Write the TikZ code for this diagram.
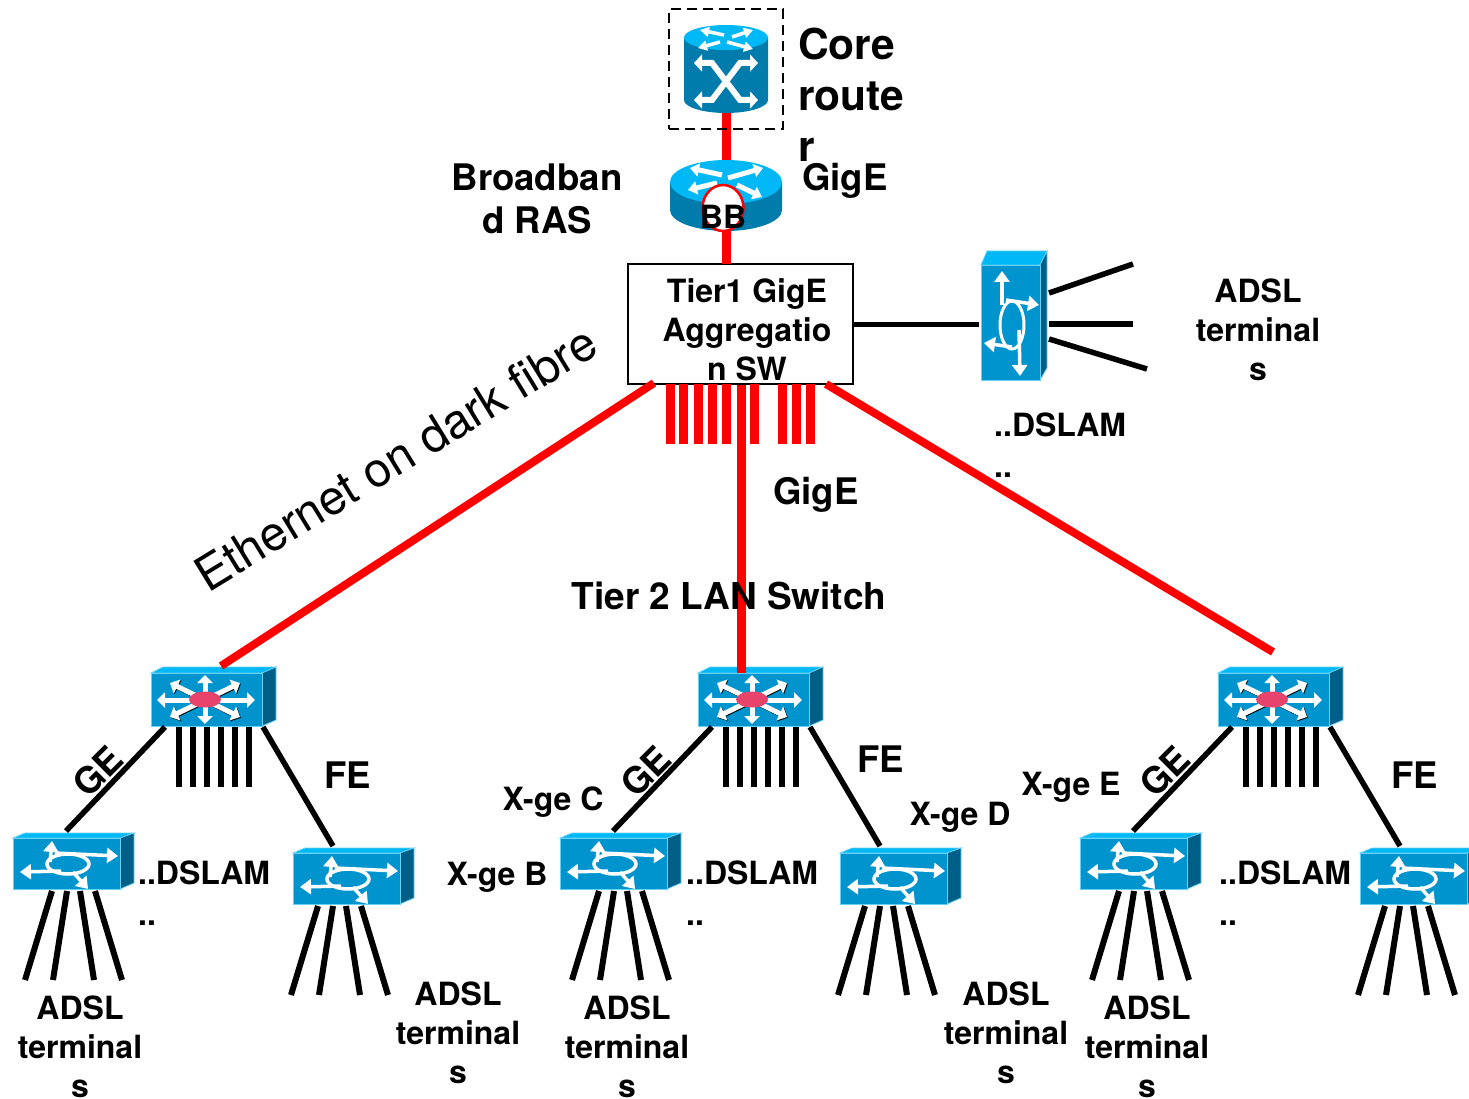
\documentclass[tikz,border=0pt]{standalone}
\usepackage{fontspec}
\setmainfont{TeX Gyre Heros}
\usetikzlibrary{arrows.meta,calc,shapes.geometric}
\definecolor{cfront}{HTML}{0094CF}
\definecolor{ctop}{HTML}{00B8F5}
\definecolor{cside}{HTML}{005F86}
\definecolor{cbody}{HTML}{007CAC}
\definecolor{cedge}{HTML}{66D0F5}
\definecolor{cdot}{HTML}{E8436A}
\tikzset{
  redlink/.style={draw=red,line width=8pt},
  redfat/.style={draw=red,line width=9pt},
  blacklink/.style={draw=black,line width=5.5pt},
  blackstub/.style={draw=black,line width=6pt},
  whitearrow/.style={draw=white,line width=5pt,-{Triangle[length=8pt,width=15pt]}},
  whitearrowsm/.style={draw=white,line width=3.5pt,-{Triangle[length=11pt,width=15pt]}},
  shadearrow/.style={draw=black,line width=5pt,-{Triangle[length=8pt,width=15pt]}},
  facefront/.style={fill=cfront,draw=cedge,line width=.8pt},
  facetop/.style={fill=ctop,draw=cedge,line width=.8pt},
  faceside/.style={fill=cside,draw=cedge,line width=.8pt},
  lb/.style={font=\bfseries\fontsize{32}{39}\selectfont,align=center,inner sep=0pt,text=black},
  lbl/.style={font=\bfseries\fontsize{32}{41}\selectfont,align=left,inner sep=0pt,anchor=west,text=black},
  lbm/.style={font=\bfseries\fontsize{36.6}{43}\selectfont,align=center,inner sep=0pt,text=black},
}
% layer 3 switch: #1 name, origin = top-left of the front face
\newcommand{\lanswitch}[3]{%
\begin{scope}[shift={(#2,#3)}]
  \fill[facetop] (0,0) -- (12,-6) -- (125,-6) -- (111,0) -- cycle;
  \fill[faceside] (111,0) -- (125,-6) -- (125,47) -- (111,53) -- cycle;
  \node[rectangle,facefront,minimum width=111pt,minimum height=53pt,inner sep=0pt,anchor=north west] (#1) at (0,0) {};
  \foreach \a/\b in {19/10,89/10,19/44,89/44}{
    \draw[shadearrow] (54.8,27.8) -- ($(\a,\b)+(.8,.8)$);
    \draw[whitearrow] (54,27) -- (\a,\b);}
  \foreach \a/\b in {6/27,104/27,54/2,54/51}{\draw[whitearrow] (54,27) -- (\a,\b);}
  \fill[cdot] (54,26.5) ellipse [x radius=16pt,y radius=8pt];
  \coordinate (#1gl) at (14,54);
  \coordinate (#1gr) at (112,54);
  \coordinate (#1top) at (70,-7);
  \foreach \i/\x in {1/28,2/42,3/56,4/70,5/84,6/98}{
    \coordinate (#1a\i) at (\x,54);
    \coordinate (#1b\i) at (\x,114);
    \draw[blackstub] (#1a\i) -- (#1b\i);}
\end{scope}}
% DSLAM: #1 name, origin = top-left of the front face, #4 = horizontal offset of the fan
\newcommand{\dslam}[4]{%
\begin{scope}[shift={(#2,#3)}]
  \fill[facetop] (0,0) -- (12,-5) -- (121,-5) -- (107,0) -- cycle;
  \fill[faceside] (107,0) -- (121,-5) -- (121,45) -- (107,51) -- cycle;
  \node[rectangle,facefront,minimum width=107pt,minimum height=51pt,inner sep=0pt,anchor=north west] (#1) at (0,0) {};
  \coordinate (#1n) at (53,-7);
  \coordinate (#1m) at (40,-7);
  \draw[whitearrowsm] (37,24) -- (39,3);
  \draw[whitearrowsm] (42,15) -- (105,18);
  \draw[whitearrowsm] (48,33) -- (7,34);
  \draw[whitearrowsm] (60,34) -- (75,51);
  \draw[white,line width=3.5pt] (55,26) ellipse [x radius=21pt,y radius=10pt];
  \foreach \i/\x/\ex in {1/39/12,2/54/40,3/67/81,4/82/109}{
    \coordinate (#1p\i) at ({\x+#4},53);
    \coordinate (#1e\i) at ({\ex+#4},142);
    \draw[blackstub] (#1p\i) -- (#1e\i);}
\end{scope}}
\begin{document}
\begin{tikzpicture}[x=1pt,y=-1pt]
\useasboundingbox (0,0) rectangle (1469,1099);
\clip (0,0) rectangle (1469,1099);

% --- devices at the tier-2 level
\lanswitch{swa}{151}{673}
\lanswitch{swb}{698}{673}
\lanswitch{swc}{1218}{673}
\dslam{daa}{13}{838}{0}
\dslam{dab}{293}{853}{-14}
\dslam{dba}{560}{838}{0}
\dslam{dbb}{840}{853}{-14}
\dslam{dca}{1080}{838}{0}
\dslam{dcb}{1360}{853}{-14}

% --- Tier 1 box
\node[rectangle,draw=black,line width=2.5pt,fill=white,minimum width=225pt,minimum height=120pt,inner sep=0pt] (tier) at (740.5,324) {};
\coordinate (tiersl) at (654,383);
\coordinate (tiersr) at (826,384);
\coordinate (tiers) at (741,385);
\coordinate (tierr) at (853,324);
\coordinate (tiert) at (726,264);

% --- red bars under the Tier 1 box
\foreach \n/\x in {1/670,2/683.5,3/698,4/712,5/726,6/754,7/782,8/796,9/810}{
  \coordinate (bara\n) at (\x,384);
  \coordinate (barb\n) at (\x,444);
  \draw[redfat] (bara\n) -- (barb\n);}

% --- red links
\draw[redlink] (tiersl) -- (swatop);
\draw[redfat] (tiers) -- (swb.north -| tiers);
\coordinate (swcend) at (1273,652);
\draw[redlink] (tiersr) -- (swcend);

% --- core and BB routers
\coordinate (corebot) at (726,112);
\coordinate (bbtop) at (726,165);
\coordinate (bbbot) at (726,228);
\draw[redfat] (corebot) -- (bbtop);
\draw[redfat] (bbbot) -- (tiert);

\node[rectangle,draw=black,dashed,dash pattern=on 10pt off 6pt,line width=2.5pt,minimum width=114pt,minimum height=120pt,inner sep=0pt] (corebox) at (726,69) {};
\fill[cbody] (684,37.5) -- (684,100) arc[start angle=180,end angle=360,x radius=42pt,y radius=13pt] -- (768,37.5) -- cycle;
\fill[ctop] (726,37.5) ellipse [x radius=42pt,y radius=12.5pt];
\node[coordinate] (core) at (726,70) {};
\foreach \a/\b/\c/\d in {724/35/700/30,732/37/753/30,720/42/698/48,727/42/753/49}{
  \draw[white,line width=3.5pt,-{Triangle[length=9pt,width=10pt]}] (\a,\b) -- (\c,\d);}
\draw[white,line width=6pt,{Triangle[length=8pt,width=17pt]}-{Triangle[length=8pt,width=17pt]}] (694,63) -- (712,63) -- (740,100) -- (758,100);
\draw[white,line width=6pt,{Triangle[length=8pt,width=17pt]}-{Triangle[length=8pt,width=17pt]}] (694,100) -- (712,100) -- (740,63) -- (758,63);

\fill[cbody] (670,182) -- (670,210) arc[start angle=180,end angle=360,x radius=56pt,y radius=21pt] -- (782,182) -- cycle;
\fill[ctop] (726,182) ellipse [x radius=56pt,y radius=22pt];
\foreach \a/\b/\c/\d in {722/175/690/168,728/178/763/168,717/183/688/190,737/185/762/197}{
  \draw[white,line width=5pt,-{Triangle[length=9pt,width=13pt]}] (\a,\b) -- (\c,\d);}
\node[ellipse,draw=red,line width=2.5pt,fill=white,minimum width=41pt,minimum height=46pt,inner sep=0pt] (bbring) at (723,208) {};
\node[lb] (bblabel) at (723,217) {BB};

% --- wall DSLAM
\fill[facetop] (981,265) -- (987,251) -- (1047,251) -- (1040,265) -- cycle;
\fill[faceside] (1040,265) -- (1047,251) -- (1047,368) -- (1040,380) -- cycle;
\node[rectangle,facefront,minimum width=59pt,minimum height=115pt,inner sep=0pt] (wall) at (1010.5,322.5) {};
\draw[whitearrowsm] (1002,305) -- (1002,271);
\draw[whitearrowsm] (1006,300) -- (1039,305);
\draw[whitearrowsm] (1012,347) -- (984,343);
\draw[whitearrowsm] (1019,330) -- (1020,376);
\draw[white,line width=3pt] (1012,325) ellipse [x radius=12pt,y radius=24pt];
\coordinate (wallw) at (979,324);
\draw[draw=black,line width=5pt] (tierr) -- (wallw);
\foreach \n/\a/\b/\c/\d in {1/1049/293/1133/264,2/1049/324/1133/324,3/1049/339/1147/369}{
  \coordinate (wp\n) at (\a,\b);
  \coordinate (we\n) at (\c,\d);
  \draw[blacklink] (wp\n) -- (we\n);}

% --- tier 2 to DSLAM links
\draw[blacklink] (swagl) -- (daan);
\draw[blacklink] (swagr) -- (dabm);
\draw[blacklink] (swbgl) -- (dban);
\draw[blacklink] (swbgr) -- (dbbm);
\draw[blacklink] (swcgl) -- (dcan);
\draw[blacklink] (swcgr) -- (dcbm);

% --- labels
\node[font=\bfseries\fontsize{42.5}{51}\selectfont,align=left,inner sep=0pt,anchor=west] (lcore) at (798,95) {Core\\route\\r};
\node[lbm,anchor=west] (lgig1) at (802,181) {GigE};
\node[lbm] (lbras) at (537,199) {Broadban\\d RAS};
\node[lb] (lt1) at (747,330) {Tier1 GigE\\Aggregatio\\n SW};
\node[lb] (ladsl0) at (1258,330) {ADSL\\terminal\\s};
\node[lbl] (ldsl0) at (994,445) {..DSLAM\\..};
\node[lbm,anchor=west] (lgig2) at (773,495) {GigE};
\node[font=\bfseries\fontsize{37}{43}\selectfont,inner sep=0pt] (ltier2) at (729,596) {Tier 2 LAN Switch};
\node[font=\fontsize{48}{56}\selectfont,inner sep=0pt,rotate=31.5] (leth) at (395.5,458) {Ethernet on dark fibre};

\node[lbm,rotate=45] (lgea) at (98,771) {GE};
\node[lbm,rotate=45] (lgeb) at (646,771) {GE};
\node[lbm,rotate=45] (lgec) at (1165,771) {GE};
\node[lbm] (lfea) at (348,775) {FE};
\node[lbm] (lfeb) at (881,759) {FE};
\node[lbm] (lfec) at (1415,775) {FE};

\node[lb] (xc) at (553,802) {X-ge C};
\node[lb] (xb) at (497,877) {X-ge B};
\node[lb] (xd) at (960,817) {X-ge D};
\node[lb] (xe) at (1071,787) {X-ge E};

\node[lbl] (lda) at (138,893) {..DSLAM\\..};
\node[lbl] (ldb) at (686,893) {..DSLAM\\..};
\node[lbl] (ldc) at (1219,893) {..DSLAM\\..};

\node[lb] (laa) at (80,1047) {ADSL\\terminal\\s};
\node[lb] (lab) at (458,1033) {ADSL\\terminal\\s};
\node[lb] (lba) at (627,1047) {ADSL\\terminal\\s};
\node[lb] (lbb) at (1006,1033) {ADSL\\terminal\\s};
\node[lb] (lca) at (1147,1047) {ADSL\\terminal\\s};
\end{tikzpicture}
\end{document}
